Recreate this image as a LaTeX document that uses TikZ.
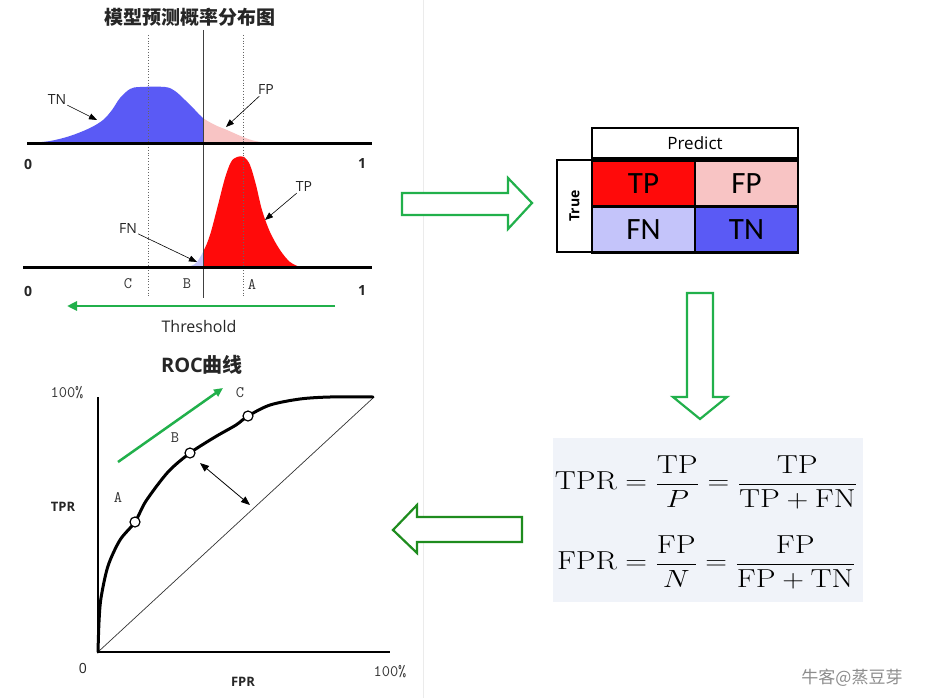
\documentclass[tikz,border=0pt]{standalone}
\usepackage{fontspec}
\usetikzlibrary{arrows.meta}
\newfontfamily\sansf{Carlito}
\newfontfamily\opens{Open Sans}
\newfontfamily\cjk{Noto Sans CJK SC}
\definecolor{tnblue}{HTML}{5A5AF5}
\definecolor{fppink}{HTML}{F8C4C4}
\definecolor{fnlav}{HTML}{C4C4FA}
\definecolor{tpred}{HTML}{FF0A0A}
\definecolor{grn}{HTML}{21B04B}
\definecolor{dgrn}{HTML}{1E8C1E}
\definecolor{fbg}{HTML}{F0F3F9}
\begin{document}
\begin{tikzpicture}[x=1pt,y=-1pt,
  lbl/.style={font=\opens\fontsize{14}{16}\selectfont, inner sep=1pt, text=black!85},
  monolbl/.style={font=\ttfamily\fontsize{16}{18}\selectfont, inner sep=1pt, text=black!80},
  ptr/.style={-{Triangle[length=8pt,width=6pt]}, line width=0.6pt},
  cell/.style={draw, line width=2.5pt, minimum width=103pt, minimum height=46pt, font=\sansf\fontsize{31}{33}\selectfont, inner sep=0pt, outer sep=0pt},
  blockarrow/.style={line width=2.2pt, line join=miter, fill=white},
  titlef/.style={font=\cjk\bfseries\fontsize{19}{21}\selectfont, text=black!85}
]
\useasboundingbox (0,0) rectangle (928,698);
\fill[white] (0,0) rectangle (928,698);
\draw[black!8, line width=1pt] (423,0) -- (423,698);

% ---------- top panel ----------
\node[titlef] (title1) at (190,17) {模型预测概率分布图};

\begin{scope}
\clip (0,0) rectangle (203,143);
\fill[tnblue] plot[smooth, tension=0.55] coordinates {(30,143)(50,141)(70,136)(90,128)(103,120)(112,110)(120,98)(130,89)(140,87)(165,87)(175,91)(185,100)(195,110)(203,118)(215,125)(227,130)(243,137)(255,141)(270,143)} -- cycle;
\end{scope}
\begin{scope}
\clip (203,0) rectangle (400,143);
\fill[fppink] plot[smooth, tension=0.55] coordinates {(30,143)(50,141)(70,136)(90,128)(103,120)(112,110)(120,98)(130,89)(140,87)(165,87)(175,91)(185,100)(195,110)(203,118)(215,125)(227,130)(243,137)(255,141)(270,143)} -- cycle;
\end{scope}

\begin{scope}
\clip (0,140) rectangle (203,267);
\fill[fnlav] plot[smooth, tension=0.55] coordinates {(185,267)(195,264)(203,252)(210,235)(218,205)(225,178)(231,162)(237,157)(244,157)(250,165)(256,185)(262,210)(270,232)(280,250)(290,262)(300,267)} -- cycle;
\end{scope}
\begin{scope}
\clip (203,140) rectangle (400,267);
\fill[tpred] plot[smooth, tension=0.55] coordinates {(185,267)(195,264)(203,252)(210,235)(218,205)(225,178)(231,162)(237,157)(244,157)(250,165)(256,185)(262,210)(270,232)(280,250)(290,262)(300,267)} -- cycle;
\end{scope}

\draw[black!60, dotted, line width=0.8pt] (148,35) -- (148,298);
\draw[black!60, dotted, line width=0.8pt] (243,35) -- (243,298);
\draw[black!75, line width=1pt] (203,30) -- (203,298);

\draw[black, line width=3pt] (27,143) -- (372,143);
\draw[black, line width=3pt] (23,267) -- (372,267);

\node[lbl] (tn) at (57,100) {TN};
\coordinate (tnp) at (97,120);
\draw[ptr] (tn) -- (tnp);
\node[lbl] (fp) at (266,90) {FP};
\coordinate (fpp) at (226,127);
\draw[ptr] (fp) -- (fpp);
\node[lbl] (tp) at (304,187) {TP};
\coordinate (tpp) at (265,220);
\draw[ptr] (tp) -- (tpp);
\node[lbl] (fn) at (128,229) {FN};
\coordinate (fnp) at (197,262);
\draw[ptr] (fn) -- (fnp);

\node[lbl, font=\opens\bfseries\fontsize{14}{16}\selectfont] (z1) at (28,164) {0};
\node[lbl, font=\opens\bfseries\fontsize{14}{16}\selectfont] (o1) at (362,164) {1};
\node[lbl, font=\opens\bfseries\fontsize{14}{16}\selectfont] (z2) at (28,291) {0};
\node[lbl, font=\opens\bfseries\fontsize{14}{16}\selectfont] (o2) at (362,291) {1};
\node[monolbl] (lc) at (128,284) {C};
\node[monolbl] (lb) at (187,284) {B};
\node[monolbl] (la) at (252,284) {A};

\coordinate (thR) at (335,306);
\coordinate (thL) at (67,306);
\draw[grn, line width=2.5pt, -{Triangle[length=10pt,width=9pt]}] (thR) -- (thL);
\node[lbl, font=\opens\fontsize{16}{18}\selectfont] (thr) at (199,326) {Threshold};

% ---------- confusion matrix ----------
\node[draw, line width=2.5pt, minimum width=206pt, minimum height=30pt, inner sep=0pt, font=\opens\fontsize{17}{19}\selectfont] (pred) at (695,143) {Predict};
\node[draw, line width=2.5pt, minimum width=35pt, minimum height=92pt, inner sep=0pt] (truebox) at (574.5,206) {};
\node[rotate=90, font=\opens\bfseries\fontsize{14}{16}\selectfont] (truelbl) at (574.5,206) {True};
\node[cell, fill=tpred] (cTP) at (643.5,183.5) {TP};
\node[cell, fill=fppink] (cFP) at (746.5,183.5) {FP};
\node[cell, fill=fnlav] (cFN) at (643.5,229.5) {FN};
\node[cell, fill=tnblue] (cTN) at (746.5,229.5) {TN};

% ---------- block arrows ----------
\draw[grn, blockarrow] (402,193) -- (508,193) -- (508,178) -- (532,203) -- (508,229) -- (508,215) -- (402,215) -- cycle;
\draw[grn, blockarrow] (687,293) -- (713,293) -- (713,397) -- (727,397) -- (700,419) -- (673,397) -- (687,397) -- cycle;
\draw[dgrn, blockarrow] (522,517) -- (417,517) -- (417,505) -- (393,530) -- (417,553) -- (417,542) -- (522,542) -- cycle;

% ---------- formulas ----------
\fill[fbg] (553,438) rectangle (863,602);
\node[font=\fontsize{26}{30}\selectfont, inner sep=0pt] (f1) at (706,482) {\scalebox{1.21}[1]{$\displaystyle \mathrm{TPR}=\frac{\mathrm{TP}}{P}=\frac{\mathrm{TP}}{\mathrm{TP}+\mathrm{FN}}$}};
\node[font=\fontsize{26}{30}\selectfont, inner sep=0pt] (f2) at (706,562) {\scalebox{1.21}[1]{$\displaystyle \mathrm{FPR}=\frac{\mathrm{FP}}{N}=\frac{\mathrm{FP}}{\mathrm{FP}+\mathrm{TN}}$}};

% ---------- ROC ----------
\node[font=\fontsize{20}{22}\selectfont, text=black!85] (title2) at (202,365) {\opens\bfseries ROC\cjk\bfseries 曲线};
\draw[black, line width=2pt] (98,397) -- (98,652) -- (390,652);
\draw[black!80, line width=0.7pt] (98,652) -- (373,398);
\draw[black, line width=3pt, line join=round, line cap=round] plot[smooth, tension=0.5] coordinates {(98,652)(99,622)(101,598)(108,566)(120,540)(135,522)(146,501)(168,472)(190,453)(215,437)(236,425)(248,416)(270,405)(300,399)(330,397)(373,397)};
\node[circle, draw, line width=1.2pt, fill=white, minimum size=10pt, inner sep=0pt] (pA) at (135,522) {};
\node[circle, draw, line width=1.2pt, fill=white, minimum size=10pt, inner sep=0pt] (pB) at (190,453) {};
\node[circle, draw, line width=1.2pt, fill=white, minimum size=10pt, inner sep=0pt] (pC) at (248,416) {};
\node[monolbl] (ra) at (118,497) {A};
\node[monolbl] (rb) at (175,438) {B};
\node[monolbl] (rc) at (240,393) {C};
\coordinate (gs) at (118,462);
\coordinate (ge) at (223,388);
\draw[grn, line width=2.5pt, -{Triangle[length=9pt,width=8pt]}] (gs) -- (ge);
\coordinate (ds) at (200,463);
\coordinate (de) at (250,505);
\draw[line width=0.8pt, {Triangle[length=9pt,width=7pt]}-{Triangle[length=9pt,width=7pt]}] (ds) -- (de);
\node[monolbl] (y100) at (67,393) {100\%};
\node[monolbl] (x100) at (390,672) {100\%};
\node[lbl] (r0) at (83,668) {0};
\node[lbl, font=\opens\bfseries\fontsize{13}{15}\selectfont] (tpr) at (63,507) {TPR};
\node[lbl, font=\opens\bfseries\fontsize{13}{15}\selectfont] (fpr) at (243,682) {FPR};

% ---------- watermark ----------
\node[font=\cjk\fontsize{17}{19}\selectfont, text=black!45] (wm) at (852,678) {牛客@蒸豆芽};
\end{tikzpicture}
\end{document}
